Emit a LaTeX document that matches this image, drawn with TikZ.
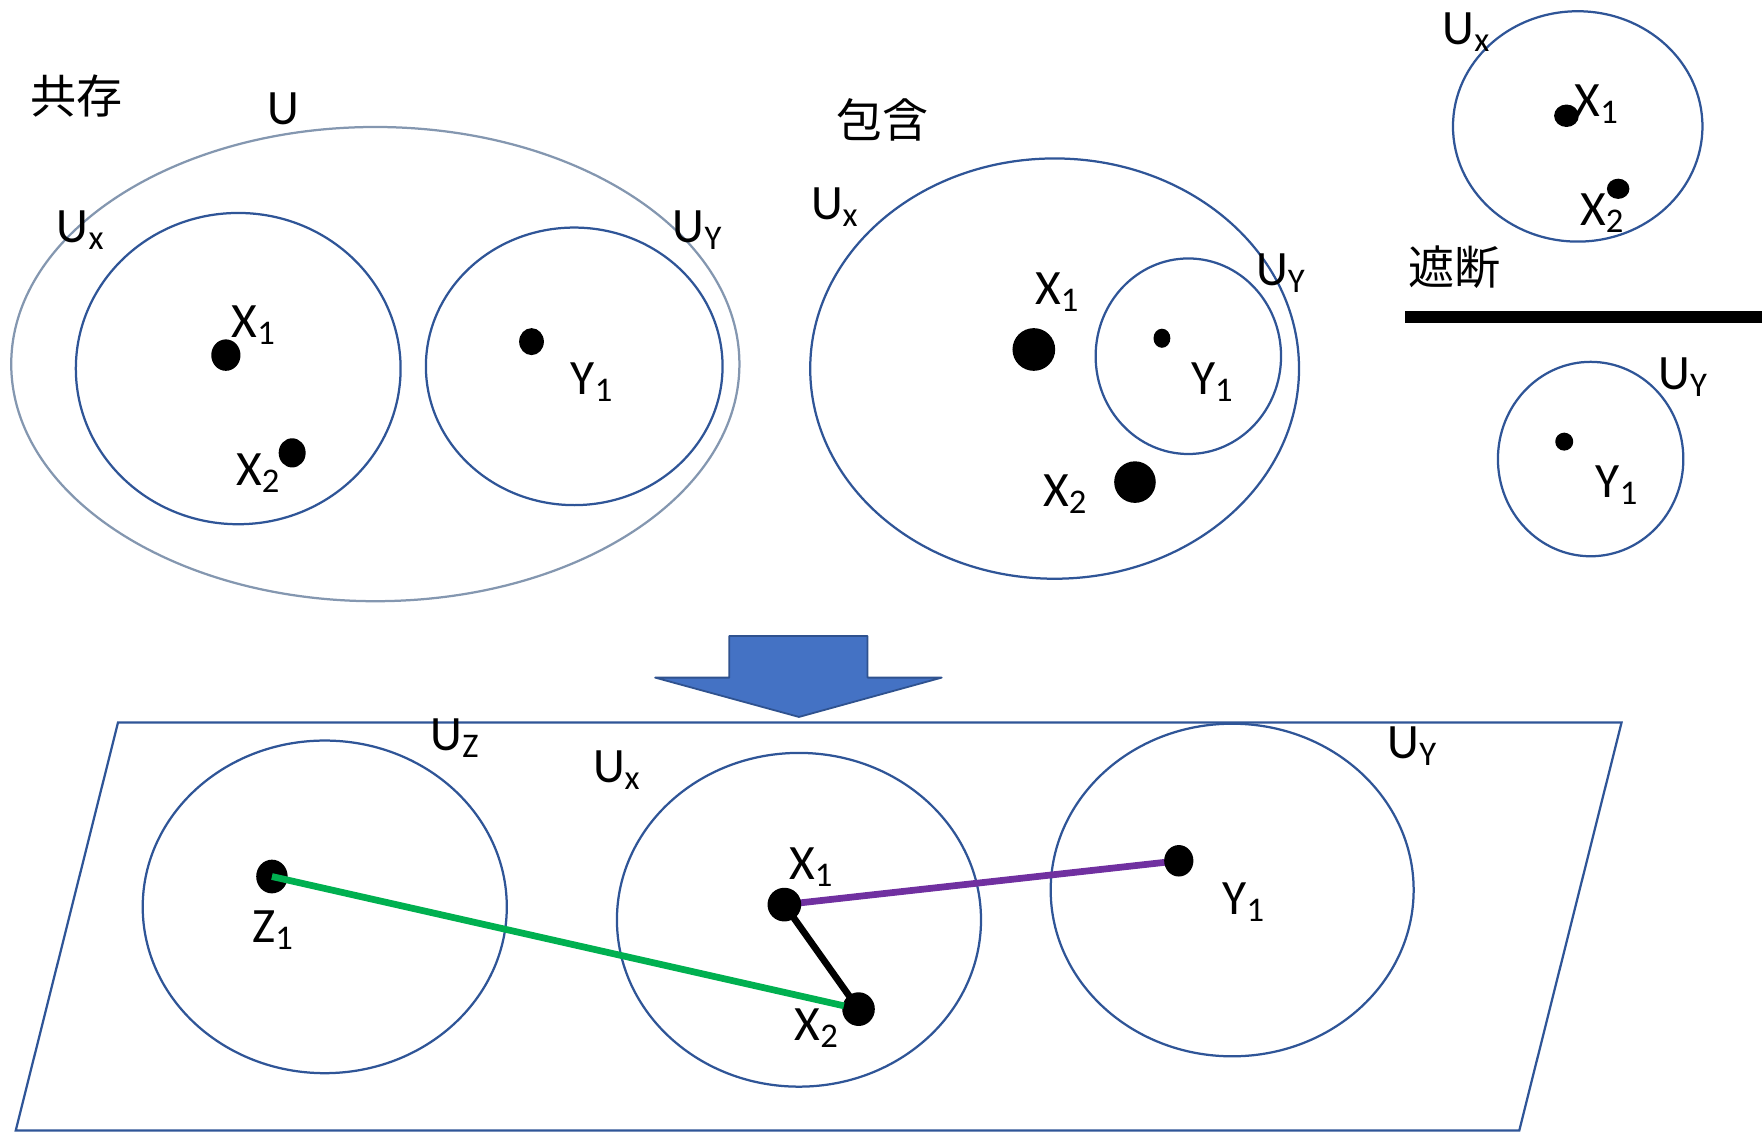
\documentclass[tikz,border=0pt]{standalone}
\usepackage{fontspec}
\setmainfont{Carlito}
\newfontfamily\jpfont{Noto Sans CJK JP}
\usetikzlibrary{shapes.geometric,calc}
\definecolor{dblue}{RGB}{47,85,151}
\definecolor{ublue}{RGB}{132,151,176}
\definecolor{afill}{RGB}{68,114,196}
\definecolor{astroke}{RGB}{47,82,143}
\definecolor{lgreen}{RGB}{0,176,80}
\definecolor{lpurple}{RGB}{112,48,160}
\begin{document}
\begin{tikzpicture}[x=0.5pt,y=-0.5pt,
  ring/.style={draw=dblue, line width=1pt, ellipse, inner sep=0pt, outer sep=0pt},
  outerring/.style={draw=ublue, line width=1pt, ellipse, inner sep=0pt, outer sep=0pt},
  dot/.style={fill=black, ellipse, inner sep=0pt, outer sep=0pt},
  lbl/.style={font=\fontsize{22}{26}\selectfont, inner sep=0pt},
  cjk/.style={font=\jpfont\fontsize{20.5}{24}\selectfont, inner sep=0pt},
  link/.style={line width=3pt}
]
\useasboundingbox (0,0) rectangle (1568,1008);

% ---------- left panel: coexistence ----------
\node[cjk] (tkyo) at (68,85) {共存};
\node[outerring, minimum width=324pt, minimum height=211pt] (lu) at (334,324) {};
\node[ring, minimum width=144.5pt, minimum height=138.5pt] (lux) at (212,328) {};
\node[ring, minimum width=132pt, minimum height=123.5pt] (luy) at (511,326) {};
\node[dot, minimum width=13pt, minimum height=14pt] (lx1) at (201,316) {};
\node[dot, minimum width=12pt, minimum height=13pt] (lx2) at (260,403) {};
\node[dot, minimum width=11pt, minimum height=12pt] (ly1) at (473,304) {};
\node[lbl] (luL) at (252,97) {U};
\node[lbl] (luxL) at (72,205) {U\textsubscript{x}};
\node[lbl] (luyL) at (621,205) {U\textsubscript{Y}};
\node[lbl] (lx1L) at (226,289) {X\textsubscript{1}};
\node[lbl] (lx2L) at (230,421) {X\textsubscript{2}};
\node[lbl] (ly1L) at (527,340) {Y\textsubscript{1}};

% ---------- middle panel: inclusion ----------
\node[cjk] (thou) at (785,107) {包含};
\node[ring, minimum width=217.5pt, minimum height=187pt] (mux) at (938.5,328) {};
\node[ring, minimum width=82.5pt, minimum height=87pt] (muy) at (1057.5,317) {};
\node[dot, minimum width=19pt, minimum height=19pt] (mx1) at (920,311) {};
\node[dot, minimum width=7.5pt, minimum height=8.5pt] (my1) at (1034,301) {};
\node[dot, minimum width=18.5pt, minimum height=18.5pt] (mx2) at (1010,429) {};
\node[lbl] (muxL) at (743,184) {U\textsubscript{x}};
\node[lbl] (muyL) at (1140,243) {U\textsubscript{Y}};
\node[lbl] (mx1L) at (941,260) {X\textsubscript{1}};
\node[lbl] (my1L) at (1079,340) {Y\textsubscript{1}};
\node[lbl] (mx2L) at (948,440) {X\textsubscript{2}};

% ---------- right panel: cut ----------
\node[ring, minimum width=111pt, minimum height=102.5pt] (rux) at (1404,112.5) {};
\node[dot, minimum width=11pt, minimum height=10pt] (rx1) at (1394,103) {};
\node[dot, minimum width=10pt, minimum height=9pt] (rx2) at (1440,168) {};
\node[lbl] (ruxL) at (1305,29) {U\textsubscript{x}};
\node[lbl] (rx1L) at (1421,93) {X\textsubscript{1}};
\node[lbl] (rx2L) at (1426,190) {X\textsubscript{2}};
\node[cjk] (tsha) at (1294,238) {遮断};
\fill[black] (1250,277) rectangle (1568,287);
\node[ring, minimum width=82.5pt, minimum height=86.5pt] (ruy) at (1415.5,408.5) {};
\node[dot, minimum width=8pt, minimum height=8pt] (ry1) at (1392,393) {};
\node[lbl] (ruyL) at (1498,336) {U\textsubscript{Y}};
\node[lbl] (ry1L) at (1439,432) {Y\textsubscript{1}};

% ---------- block arrow ----------
\draw[fill=afill, draw=astroke, line width=0.8pt, line join=round]
  (649,566) -- (772,566) -- (772,603) -- (838,603) -- (711,638) -- (583,603) -- (649,603) -- cycle;

% ---------- bottom plane ----------
\draw[dblue, line width=1pt] (105,643) -- (1443,643) -- (1352,1006) -- (14,1006) -- cycle;
\node[ring, minimum width=162pt, minimum height=148pt] (buz) at (289,807) {};
\node[ring, minimum width=162pt, minimum height=148.5pt] (bux) at (711,818.5) {};
\node[ring, minimum width=161.5pt, minimum height=148pt] (buy) at (1096.5,792) {};
\node[lbl] (buzL) at (405,657) {U\textsubscript{Z}};
\node[lbl] (buxL) at (549,685) {U\textsubscript{x}};
\node[lbl] (buyL) at (1257,664) {U\textsubscript{Y}};

\coordinate (cz1) at (242,780);
\coordinate (cx1) at (698,805);
\coordinate (cx2) at (764,898);
\coordinate (cy1) at (1049,766);
\draw[link, black] (cx1) -- (cx2);
\draw[link, lpurple] (cx1) -- (cy1);
\node[dot, minimum width=14pt, minimum height=15pt] (bz1) at (cz1) {};
\node[dot, minimum width=15pt, minimum height=15pt] (bx1) at (cx1) {};
\node[dot, minimum width=14.5pt, minimum height=15pt] (bx2) at (cx2) {};
\node[dot, minimum width=13pt, minimum height=14pt] (by1) at (cy1) {};
\draw[link, lgreen] (bz1.center) -- ($(bz1.center)!0.975!(bx2.center)$);
\node[lbl] (bz1L) at (243,828) {Z\textsubscript{1}};
\node[lbl] (bx1L) at (722,772) {X\textsubscript{1}};
\node[lbl] (bx2L) at (727,915) {X\textsubscript{2}};
\node[lbl] (by1L) at (1107,803) {Y\textsubscript{1}};
\end{tikzpicture}
\end{document}
